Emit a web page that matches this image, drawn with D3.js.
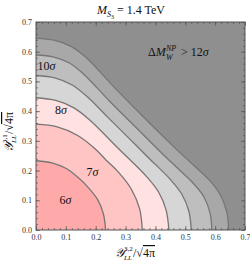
<!DOCTYPE html>
<meta charset="utf-8">
<style>
body{margin:0;background:#fff;}
svg{font-family:"Liberation Serif","DejaVu Serif",serif;}
.tick line{stroke:#555;stroke-width:0.7;}
.tick text{font-size:8px;fill:#333;font-family:"Liberation Serif",serif;}
.domain{display:none;}
.cline{fill:none;stroke:#767676;stroke-width:1.3;}
</style>
<svg id="chart" width="250" height="266"></svg>
<script src="https://d3js.org/d3.v7.min.js"></script>
<script>

// contour lines (x = Y32/sqrt(4pi), y = Y31/sqrt(4pi))
var levels = ["6σ","7σ","8σ","9σ","10σ","11σ"];
var c6  = [[0,0.233],[0.053,0.226],[0.103,0.206],[0.145,0.173],[0.173,0.145],[0.206,0.103],[0.226,0.053],[0.233,0]];
var c7  = [[0,0.356],[0.071,0.347],[0.138,0.319],[0.195,0.276],[0.235,0.235],[0.276,0.195],[0.319,0.138],[0.347,0.071],[0.356,0]];
var c8  = [[0,0.445],[0.066,0.436],[0.127,0.411],[0.179,0.371],[0.275,0.275],[0.371,0.179],[0.411,0.127],[0.436,0.066],[0.445,0]];
var c9  = [[0,0.520],[0.063,0.512],[0.121,0.488],[0.171,0.449],[0.240,0.380],[0.310,0.310],[0.380,0.240],[0.449,0.171],[0.488,0.121],[0.512,0.063],[0.520,0]];
var c10 = [[0,0.589],[0.057,0.583],[0.112,0.562],[0.158,0.526],[0.249,0.431],[0.340,0.340],[0.431,0.249],[0.526,0.158],[0.562,0.112],[0.583,0.057],[0.589,0]];
var c11 = [[0,0.645],[0.060,0.639],[0.117,0.618],[0.166,0.582],[0.268,0.474],[0.370,0.370],[0.474,0.268],[0.582,0.166],[0.618,0.117],[0.639,0.060],[0.645,0]];
var contours = [c11,c10,c9,c8,c7,c6];
var bandColors = ["#a8a8a8","#bebebe","#d6d6d6","#ffe1e1","#ffc4c4","#ffaaaa"];
var outerColor = "#8f8f8f";

var majorTicks = [0,0.1,0.2,0.3,0.4,0.5,0.6,0.7];
var minorTicks = d3.range(0,0.7001,0.02);

// text labels inside the bands
var bandLabels = [
  {num:"6", x:0.099, y:0.101},
  {num:"7", x:0.189, y:0.195},
  {num:"8", x:0.084, y:0.404},
  {num:"10", x:0.035, y:0.552}
];

var svg = d3.select("#chart");
var x = d3.scaleLinear().domain([0,0.7]).range([36,245]);
var y = d3.scaleLinear().domain([0,0.7]).range([230,22]);

svg.append("rect")
  .attr("x",x(0)).attr("y",y(0.7))
  .attr("width",x(0.7)-x(0)).attr("height",y(0)-y(0.7))
  .attr("fill",outerColor);

var line = d3.line()
  .x(function(d){return x(d[0]);})
  .y(function(d){return y(d[1]);})
  .curve(d3.curveCatmullRom.alpha(0.5));

contours.forEach(function(c,i){
  svg.append("path")
    .attr("d", line(c) + "L" + x(0) + "," + y(0) + "Z")
    .attr("fill", bandColors[i]);
});
contours.forEach(function(c){
  svg.append("path").attr("class","cline").attr("d", line(c));
});

// axes, ticks pointing in
function addAxis(axisFn, scale, tr, vals, size, labels){
  var a = axisFn(scale).tickValues(vals).tickSize(-size).tickPadding(4);
  if(!labels) a.tickFormat("");
  else a.tickFormat(d3.format(".1f"));
  svg.append("g").attr("transform",tr).call(a);
}
addAxis(d3.axisBottom, x, "translate(0,230)", majorTicks, 4, true);
addAxis(d3.axisBottom, x, "translate(0,230)", minorTicks, 2, false);
addAxis(d3.axisTop, x, "translate(0,22)", majorTicks, 4, false);
addAxis(d3.axisTop, x, "translate(0,22)", minorTicks, 2, false);
addAxis(d3.axisLeft, y, "translate(36,0)", majorTicks, 4, true);
addAxis(d3.axisLeft, y, "translate(36,0)", minorTicks, 2, false);
addAxis(d3.axisRight, y, "translate(245,0)", majorTicks, 4, false);
addAxis(d3.axisRight, y, "translate(245,0)", minorTicks, 2, false);

svg.append("rect")
  .attr("x",x(0)).attr("y",y(0.7))
  .attr("width",x(0.7)-x(0)).attr("height",y(0)-y(0.7))
  .attr("fill","none").attr("stroke","#555").attr("stroke-width",1);

// band labels
bandLabels.forEach(function(d){
  var t = svg.append("text")
    .attr("x",x(d.x)).attr("y",y(d.y)+4)
    .attr("text-anchor","middle")
    .style("font-size","12px").attr("fill","#111");
  t.append("tspan").text(d.num);
  t.append("tspan").style("font-style","italic").text("σ");
});

// small helper for pieces of math text
function piece(g, px, py, size, italic, str){
  return g.append("text").attr("x",px).attr("y",py)
    .style("font-size",size+"px")
    .style("font-style",italic ? "italic" : "normal")
    .attr("fill","#111").text(str);
}

// annotation
var ag = svg.append("g");
var a1 = piece(ag,148,56,12,false,"Δ");
a1.append("tspan").style("font-style","italic").text("M");
piece(ag,166,51,8,true,"NP");
piece(ag,166,60,8,true,"W");
var a2 = piece(ag,181,56,12,false,"> 12");
a2.append("tspan").style("font-style","italic").text("σ");

// title
var ti = piece(svg,97,14,12,true,"M");
ti.append("tspan").style("font-size","8px").attr("dy",3).text("S");
ti.append("tspan").style("font-size","6px").style("font-style","normal").attr("dy",2).text("3");
ti.append("tspan").style("font-style","normal").attr("dy",-5).text(" = 1.4 TeV");

// axis titles
function axisTitle(g, sup){
  piece(g,0,0,12,true,"𝒴");
  piece(g,9,-6,7,false,sup);
  piece(g,9,3,7,true,"LL");
  var t = piece(g,18,0,12,false,"/√");
  t.append("tspan").style("text-decoration","overline").text("4π");
}
axisTitle(svg.append("g").attr("transform","translate(115,257)"), "3,2");
axisTitle(svg.append("g").attr("transform","translate(13,152) rotate(-90)"), "3,1");
</script>
